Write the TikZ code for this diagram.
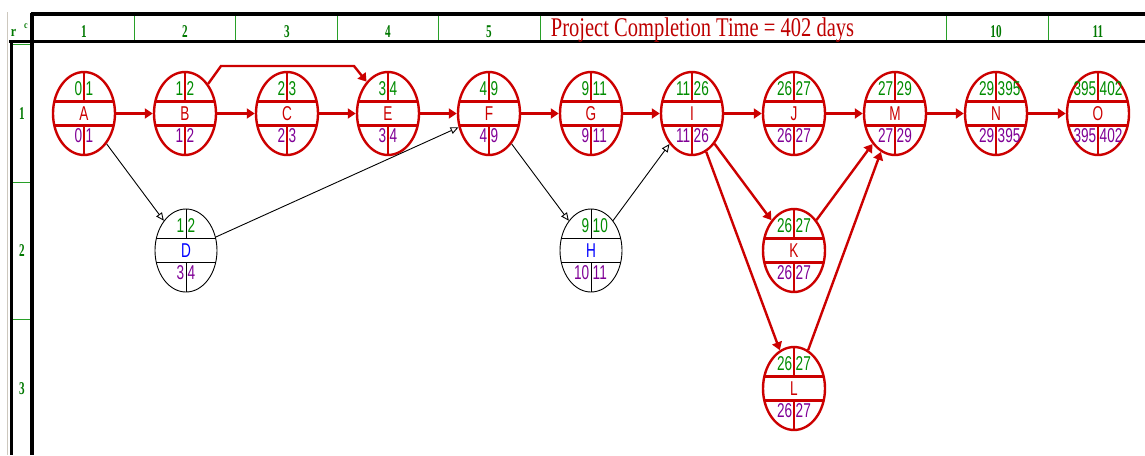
\documentclass[tikz,border=0pt]{standalone}
\usepackage{fontspec}
\setmainfont{Liberation Sans}
\newfontfamily\headserif{Liberation Serif}
\usetikzlibrary{shapes.geometric,arrows.meta}

\definecolor{critred}{RGB}{204,0,0}
\definecolor{esgreen}{RGB}{0,140,0}
\definecolor{lfpurple}{RGB}{128,0,150}
\definecolor{gridgreen}{RGB}{40,160,40}
\definecolor{labgreen}{RGB}{0,120,0}
\definecolor{titlered}{RGB}{190,0,0}
\definecolor{edgegray}{RGB}{205,200,190}
\definecolor{namblue}{RGB}{0,0,255}

% condensed text, as in the schedule chart
\newcommand\narrowtxt[1]{\scalebox{0.68}[1]{#1}}

\tikzset{
  actshape/.style={ellipse, minimum width=62pt, minimum height=83pt, inner sep=0pt},
  crit/.style={draw=critred, line width=2.4pt},
  free/.style={draw=black, line width=0.9pt},
  numtxt/.style={inner sep=0pt, font=\fontsize{20}{20}\selectfont},
  critarrow/.style={crit, line join=miter, -{Triangle[length=8pt,width=10pt]}},
  freearrow/.style={free, -{Triangle[open,length=8pt,width=7pt]}},
  frame/.style={draw=black, line width=3.5pt},
  divider/.style={draw=gridgreen, line width=1pt},
  headlab/.style={text=labgreen, inner sep=0pt,
    font=\headserif\bfseries\fontsize{18}{18}\selectfont},
}

% \activity{name}{x}{y}{ES}{EF}{LS}{LF}{outline style}{name colour}
\newcommand\activity[9]{%
  \node[actshape,#8] (#1) at (#2,#3) {};
  \draw[#8] ([shift={(-29.7,-12)}]#1.center) -- ([shift={(29.7,-12)}]#1.center);
  \draw[#8] ([shift={(-29.7,12)}]#1.center) -- ([shift={(29.7,12)}]#1.center);
  \draw[#8] (#1.north) -- ([shift={(0,-12)}]#1.center);
  \draw[#8] ([shift={(0,12)}]#1.center) -- (#1.south);
  \node[numtxt,text=esgreen,anchor=east] (#1-es) at ([shift={(-1.5,-24.5)}]#1.center) {\narrowtxt{#4}};
  \node[numtxt,text=esgreen,anchor=west] (#1-ef) at ([shift={(1.5,-24.5)}]#1.center) {\narrowtxt{#5}};
  \node[numtxt,text=lfpurple,anchor=east] (#1-ls) at ([shift={(-1.5,22.5)}]#1.center) {\narrowtxt{#6}};
  \node[numtxt,text=lfpurple,anchor=west] (#1-lf) at ([shift={(1.5,22.5)}]#1.center) {\narrowtxt{#7}};
  \node[numtxt,text=#9] (#1-name) at (#1.center) {\narrowtxt{#1}};
}

\begin{document}
\begin{tikzpicture}[x=1pt,y=-1pt]
\useasboundingbox (0,0) rectangle (1145,455);
\fill[white] (0,0) rectangle (1145,455);

% ---- grid frame ----
\draw[edgegray, line width=1.5pt] (7.5,12) -- (7.5,455);
\draw[divider] (12,44) -- (31,44);
\draw[divider] (12,182.5) -- (31,182.5);
\draw[divider] (12,319.5) -- (31,319.5);
\foreach \xd in {134.4,235.8,337.2,438.6,540,946.6,1048}
  \draw[divider] (\xd,15) -- (\xd,40);
\draw[frame] (30.5,14) -- (1145,14);
\draw[frame] (9,41.5) -- (1145,41.5);
\draw[frame] (32,12.5) -- (32,455);
\draw[draw=black, line width=3pt] (11,40) -- (11,455);

% corner marks
\node[headlab, font=\headserif\bfseries\fontsize{15}{15}\selectfont] (rmark) at (13.5,33) {\scalebox{0.8}[1]{r}};
\node[headlab, font=\headserif\bfseries\fontsize{10}{10}\selectfont] (cmark) at (26,26.5) {\scalebox{0.8}[1]{c}};

% column numbers
\node[headlab] (col1) at (84,31.5) {\scalebox{0.62}[1]{1}};
\node[headlab] (col2) at (185,31.5) {\scalebox{0.62}[1]{2}};
\node[headlab] (col3) at (287,31.5) {\scalebox{0.62}[1]{3}};
\node[headlab] (col4) at (388,31.5) {\scalebox{0.62}[1]{4}};
\node[headlab] (col5) at (489,31.5) {\scalebox{0.62}[1]{5}};
\node[headlab] (col10) at (996,31.5) {\scalebox{0.62}[1]{10}};
\node[headlab] (col11) at (1098,31.5) {\scalebox{0.62}[1]{11}};

% row numbers
\node[headlab] (row1) at (22,114) {\scalebox{0.62}[1]{1}};
\node[headlab] (row2) at (22,251) {\scalebox{0.62}[1]{2}};
\node[headlab] (row3) at (22,389) {\scalebox{0.62}[1]{3}};

% title
\node[text=titlered, inner sep=0pt, anchor=base,
      font=\headserif\fontsize{27}{27}\selectfont] (title) at (702.5,36.5)
  {\scalebox{0.76}[1]{Project Completion Time = 402 days}};

% ---- activities ----
\activity{A}{84}{113.5}{0}{1}{0}{1}{crit}{critred}
\activity{B}{185}{113.5}{1}{2}{1}{2}{crit}{critred}
\activity{C}{287}{113.5}{2}{3}{2}{3}{crit}{critred}
\activity{E}{388}{113.5}{3}{4}{3}{4}{crit}{critred}
\activity{F}{489}{113.5}{4}{9}{4}{9}{crit}{critred}
\activity{G}{591}{113.5}{9}{11}{9}{11}{crit}{critred}
\activity{I}{692}{113.5}{11}{26}{11}{26}{crit}{critred}
\activity{J}{794}{113.5}{26}{27}{26}{27}{crit}{critred}
\activity{M}{895}{113.5}{27}{29}{27}{29}{crit}{critred}
\activity{N}{996}{113.5}{29}{395}{29}{395}{crit}{critred}
\activity{O}{1098}{113.5}{395}{402}{395}{402}{crit}{critred}
\activity{D}{186}{250.5}{1}{2}{3}{4}{free}{namblue}
\activity{H}{591}{250.5}{9}{10}{10}{11}{free}{namblue}
\activity{K}{794}{250.5}{26}{27}{26}{27}{crit}{critred}
\activity{L}{794}{388.5}{26}{27}{26}{27}{crit}{critred}

% ---- critical precedences ----
\draw[critarrow] (A) -- (B);
\draw[critarrow] (B) -- (C);
\draw[critarrow] (C) -- (E);
\draw[critarrow] (E) -- (F);
\draw[critarrow] (F) -- (G);
\draw[critarrow] (G) -- (I);
\draw[critarrow] (I) -- (J);
\draw[critarrow] (J) -- (M);
\draw[critarrow] (M) -- (N);
\draw[critarrow] (N) -- (O);
\draw[critarrow] (B.52) -- (221,66) -- (354,66) -- (E.124);
\draw[critarrow] (I) -- (K);
\draw[critarrow] (I) -- (L);
\draw[critarrow] (K) -- (M);
\draw[critarrow] (L) -- (M);

% ---- non-critical precedences ----
\draw[freearrow] (A) -- (D);
\draw[freearrow] (D) -- (F);
\draw[freearrow] (F) -- (H);
\draw[freearrow] (H) -- (I);
\end{tikzpicture}
\end{document}
